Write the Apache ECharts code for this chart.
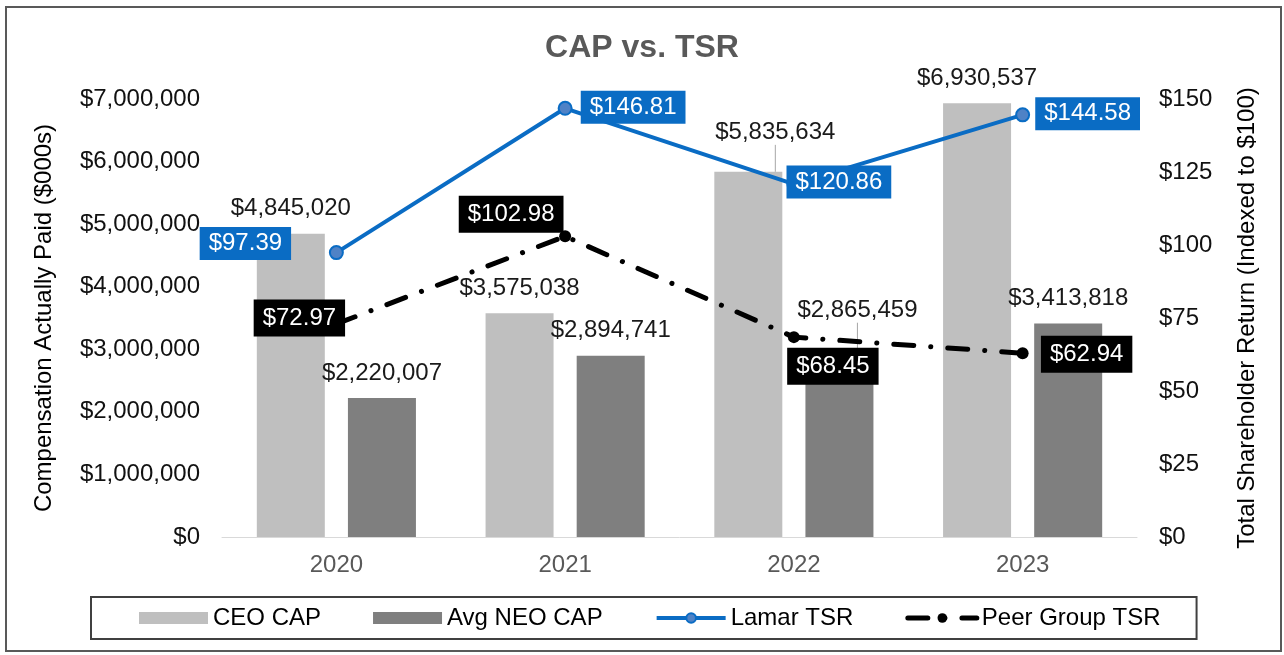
<!DOCTYPE html>
<html>
<head>
<meta charset="utf-8">
<script src="https://cdn.jsdelivr.net/npm/echarts@6/dist/echarts.min.js"></script>
<style>
html, body { margin: 0; padding: 0; background: #fff; }
#chart { width: 1284px; height: 655px; }
</style>
</head>
<body>
<div id="chart"></div>
<script>
var years = ['2020', '2021', '2022', '2023'];
var ceoCap = [4845020, 3575038, 5835634, 6930537];
var neoCap = [2220007, 2894741, 2865459, 3413818];
var lamarTsr = [97.39, 146.81, 120.86, 144.58];
var peerTsr = [72.97, 102.98, 68.45, 62.94];

// label nudges (px) so boxes sit where the original puts them
var lamarOffset = [[-91, -9], [68, -1], [45, -2], [65, -1]];
var peerOffset = [[-37, -6], [-54, -22], [39, 29], [64, 1]];
var barMove = { ceo: { 2: [27, -14] }, neo: { 2: [18, -22] } };

var FONT = 'Liberation Sans, Arial, sans-serif';
var FS = 24;

function money(v) {
    return '$' + Number(v).toLocaleString('en-US');
}

var chart = echarts.init(document.getElementById('chart'));

function barSeries(name, values, color, moves) {
    return {
        name: name,
        type: 'bar',
        yAxisIndex: 0,
        barWidth: 68,
        barGap: '34%',
        itemStyle: { color: color },
        label: {
            show: true,
            position: 'top',
            distance: 13,
            fontFamily: FONT,
            fontSize: FS,
            color: '#1a1a1a',
            formatter: function (p) { return money(p.value); }
        },
        labelLine: { show: false, lineStyle: { color: '#a6a6a6', width: 1 } },
        labelLayout: function (p) {
            var m = moves[p.dataIndex];
            if (!m) return {};
            return { dx: m[0], dy: m[1] };
        },
        data: values.map(function (v, i) {
            return moves[i] ? { value: v, labelLine: { show: true } } : v;
        })
    };
}

function lineData(values, offsets, bg) {
    return values.map(function (v, i) {
        return {
            value: v,
            label: {
                show: true,
                position: 'inside',
                offset: offsets[i],
                backgroundColor: bg
            }
        };
    });
}

var option = {
    animation: false,
    backgroundColor: '#fff',
    title: {
        text: 'CAP vs. TSR',
        left: 'center',
        top: 27,
        textStyle: {
            fontFamily: FONT,
            fontSize: 32,
            fontWeight: 'bold',
            color: '#595959'
        }
    },
    graphic: [{
        type: 'rect',
        shape: { x: 6, y: 7, width: 1275, height: 644 },
        style: { fill: 'none', stroke: '#595959', lineWidth: 2 },
        silent: true,
        z: -1
    }],
    legend: {
        left: 91,
        top: 597,
        padding: [9, 36, 9, 48],
        borderColor: '#404040',
        borderWidth: 2,
        itemGap: 52,
        itemWidth: 69,
        itemHeight: 12,
        textStyle: { fontFamily: FONT, fontSize: FS, color: '#000' },
        data: [
            { name: 'CEO CAP', icon: 'rect' },
            { name: 'Avg NEO CAP', icon: 'rect' },
            { name: 'Lamar TSR', lineStyle: { width: 4 } },
            { name: 'Peer Group TSR', lineStyle: { width: 5 } }
        ]
    },
    grid: { left: 222, right: 147, top: 99, bottom: 118 },
    xAxis: {
        type: 'category',
        data: years,
        axisTick: { show: false },
        axisLine: { lineStyle: { color: '#d9d9d9', width: 1 } },
        axisLabel: {
            margin: 16,
            fontFamily: FONT,
            fontSize: FS,
            color: '#595959'
        }
    },
    yAxis: [{
        type: 'value',
        min: 0,
        max: 7000000,
        interval: 1000000,
        name: 'Compensation Actually Paid ($000s)',
        nameLocation: 'middle',
        nameGap: 166,
        nameTextStyle: { fontFamily: FONT, fontSize: FS, color: '#000' },
        splitLine: { show: false },
        axisLine: { show: false },
        axisTick: { show: false },
        axisLabel: {
            margin: 22,
            fontFamily: FONT,
            fontSize: FS,
            color: '#111',
            formatter: function (v) { return money(v); }
        }
    }, {
        type: 'value',
        min: 0,
        max: 150,
        interval: 25,
        name: 'Total Shareholder Return (Indexed to $100)',
        nameLocation: 'middle',
        nameGap: 98,
        nameTextStyle: { fontFamily: FONT, fontSize: FS, color: '#000' },
        splitLine: { show: false },
        axisLine: { show: false },
        axisTick: { show: false },
        axisLabel: {
            margin: 22,
            fontFamily: FONT,
            fontSize: FS,
            color: '#111',
            formatter: function (v) { return '$' + v; }
        }
    }],
    series: [
        barSeries('CEO CAP', ceoCap, '#bfbfbf', barMove.ceo),
        barSeries('Avg NEO CAP', neoCap, '#7f7f7f', barMove.neo),
        {
            name: 'Lamar TSR',
            type: 'line',
            yAxisIndex: 1,
            symbol: 'circle',
            symbolSize: 13,
            z: 4,
            lineStyle: { color: '#0a6cc4', width: 4 },
            itemStyle: { color: '#4f82c6', borderColor: '#0a6cc4', borderWidth: 2 },
            label: {
                show: true,
                fontFamily: FONT,
                fontSize: FS,
                lineHeight: 25,
                color: '#fff',
                padding: [4, 9],
                formatter: function (p) { return '$' + p.value.toFixed(2); }
            },
            data: lineData(lamarTsr, lamarOffset, '#0a6cc4')
        },
        {
            name: 'Peer Group TSR',
            type: 'line',
            yAxisIndex: 1,
            symbol: 'circle',
            symbolSize: 12,
            z: 3,
            lineStyle: { color: '#000', width: 5, type: [20, 17, 0.1, 17], cap: 'round' },
            itemStyle: { color: '#000' },
            label: {
                show: true,
                fontFamily: FONT,
                fontSize: FS,
                lineHeight: 25,
                color: '#fff',
                padding: [6, 9],
                formatter: function (p) { return '$' + p.value.toFixed(2); }
            },
            data: lineData(peerTsr, peerOffset, '#000')
        }
    ]
};

chart.setOption(option);
</script>
</body>
</html>
